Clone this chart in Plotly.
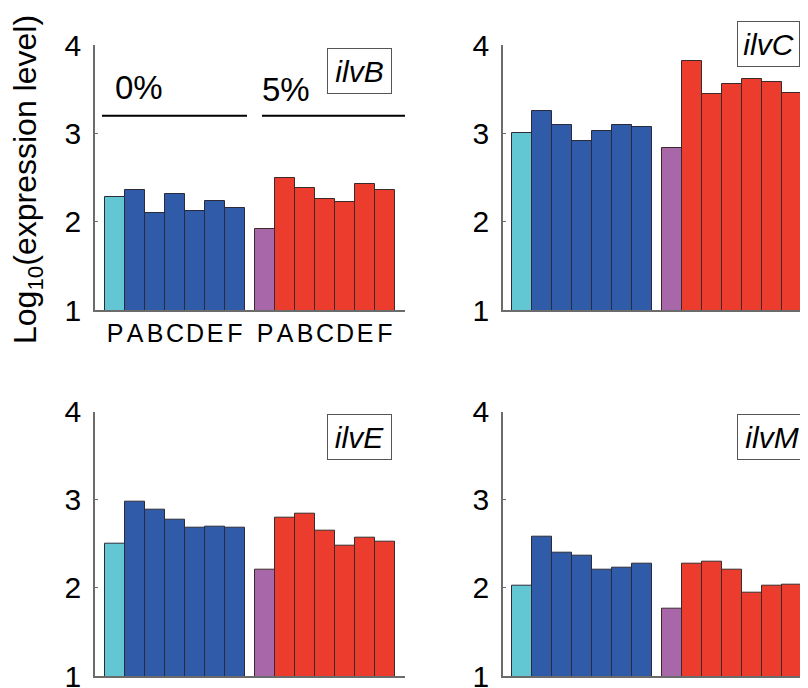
import plotly.graph_objects as go

categories = ["P", "A", "B", "C", "D", "E", "F"]
group_labels = ["0%", "5%"]
genes = ["ilvB", "ilvC", "ilvE", "ilvM"]

ilvB_0 = [2.28, 2.36, 2.10, 2.31, 2.12, 2.23, 2.16]
ilvB_5 = [1.92, 2.49, 2.38, 2.26, 2.22, 2.43, 2.36]
ilvC_0 = [3.00, 3.25, 3.09, 2.91, 3.03, 3.09, 3.07]
ilvC_5 = [2.83, 3.82, 3.44, 3.56, 3.61, 3.58, 3.46]
ilvE_0 = [2.50, 2.98, 2.89, 2.77, 2.68, 2.70, 2.68]
ilvE_5 = [2.21, 2.80, 2.84, 2.65, 2.48, 2.57, 2.53]
ilvM_0 = [2.02, 2.58, 2.40, 2.36, 2.21, 2.23, 2.27]
ilvM_5 = [1.76, 2.27, 2.30, 2.21, 1.94, 2.02, 2.04]

y_ticks = [1, 2, 3, 4]

CYAN = "#63C7D3"
BLUE = "#2F5BA9"
PURPLE = "#A767A8"
RED = "#EB3C2E"
FONT = "Liberation Sans, Arial, sans-serif"

# page has an 8px body margin; figure sized so it fills the 808x688 window
OFF = 8
W, H = 800, 680
GROUP_OFFSET = 7.5

x0 = list(range(len(categories)))
x5 = [i + GROUP_OFFSET for i in x0]

panels = [
    (genes[0], ilvB_0, ilvB_5),
    (genes[1], ilvC_0, ilvC_5),
    (genes[2], ilvE_0, ilvE_5),
    (genes[3], ilvM_0, ilvM_5),
]

def px(x):
    return (x - OFF) / W

def py(y):
    return 1 - (y - OFF) / H

# domains (window pixel based)
x_dom = [(95, 405), (503, 808), (95, 405), (503, 808)]
y_dom = [(310, 45), (310, 45), (676, 411.7), (676, 411.7)]
x_rng = [(-1.0, 14.5), (-0.95, 14.3), (-1.0, 14.5), (-0.95, 14.3)]

fig = go.Figure()
layout = dict(
    width=W, height=H,
    margin=dict(l=0, r=0, t=0, b=0, pad=0),
    paper_bgcolor="white", plot_bgcolor="white",
    showlegend=False,
    font=dict(family=FONT, color="black"),
    bargap=0,
)

for k, (gene, v0, v5) in enumerate(panels):
    xa = "x" if k == 0 else f"x{k+1}"
    ya = "y" if k == 0 else f"y{k+1}"
    fig.add_trace(go.Bar(
        x=x0, y=v0, width=1, xaxis=xa, yaxis=ya,
        marker=dict(color=[CYAN] + [BLUE] * (len(v0) - 1),
                    line=dict(color="#2a2a3a", width=1)),
        name=group_labels[0],
    ))
    fig.add_trace(go.Bar(
        x=x5, y=v5, width=1, xaxis=xa, yaxis=ya,
        marker=dict(color=[PURPLE] + [RED] * (len(v5) - 1),
                    line=dict(color="#3a2a2a", width=1)),
        name=group_labels[1],
    ))
    xname = "xaxis" if k == 0 else f"xaxis{k+1}"
    yname = "yaxis" if k == 0 else f"yaxis{k+1}"
    xa_dict = dict(
        domain=[px(x_dom[k][0]), px(x_dom[k][1])],
        range=list(x_rng[k]),
        anchor=ya, automargin=False,
        showline=True, linecolor="#6b6b6b", linewidth=1.5,
        showgrid=False, zeroline=False, ticks="",
        showticklabels=(k == 0), tickangle=0,
        ticklabeloverflow="allow",
        tickfont=dict(size=25, family=FONT, color="black"),
        tickvals=x0 + x5,
        fixedrange=True,
    )
    if k == 0:
        xa_dict["ticktext"] = categories + categories
    layout[xname] = xa_dict
    layout[yname] = dict(
        domain=[py(y_dom[k][0]), py(y_dom[k][1])],
        range=[1, 4],
        anchor=xa, automargin=False,
        showline=True, linecolor="#6b6b6b", linewidth=1.5,
        showgrid=False, zeroline=False,
        ticks="inside", ticklen=3, tickcolor="#6b6b6b",
        tickvals=y_ticks, ticktext=[str(t) for t in y_ticks],
        tickfont=dict(size=30, family=FONT, color="black"),
        ticklabelstandoff=6, ticklabeloverflow="allow",
        fixedrange=True,
    )

fig.update_layout(**layout)

# group header lines on first panel
fig.add_shape(type="line", xref="x", yref="y", x0=-0.65, x1=6.6, y0=3.2, y1=3.2,
              line=dict(color="black", width=2))
fig.add_shape(type="line", xref="x", yref="y", x0=7.35, x1=14.5, y0=3.2, y1=3.2,
              line=dict(color="black", width=2))
fig.add_annotation(xref="paper", yref="paper", x=px(139), y=py(87), text=group_labels[0],
                   showarrow=False, font=dict(size=33, family=FONT), xanchor="center", yanchor="middle")
fig.add_annotation(xref="paper", yref="paper", x=px(286), y=py(89), text=group_labels[1],
                   showarrow=False, font=dict(size=33, family=FONT), xanchor="center", yanchor="middle")

# gene label boxes
boxes = [(359.5, 71, 59), (768.5, 43.5, 57), (359.5, 436.5, 59), (772, 436.5, 64)]
for (cx, cy, bw), gene in zip(boxes, genes):
    fig.add_annotation(xref="paper", yref="paper", x=px(cx), y=py(cy),
                       text=f"<i>{gene}</i>", showarrow=False,
                       font=dict(size=30, family=FONT, color="black"),
                       xanchor="center", yanchor="middle",
                       bordercolor="#555555", borderwidth=1, borderpad=2,
                       bgcolor="white", width=bw, height=40)

# y-axis title
fig.add_annotation(xref="paper", yref="paper", x=px(27), y=py(180),
                   text="Log<sub>10</sub>(expression level)", showarrow=False,
                   textangle=-90, font=dict(size=32, family=FONT, color="black"),
                   xanchor="center", yanchor="middle")

fig.write_html("out.html")
